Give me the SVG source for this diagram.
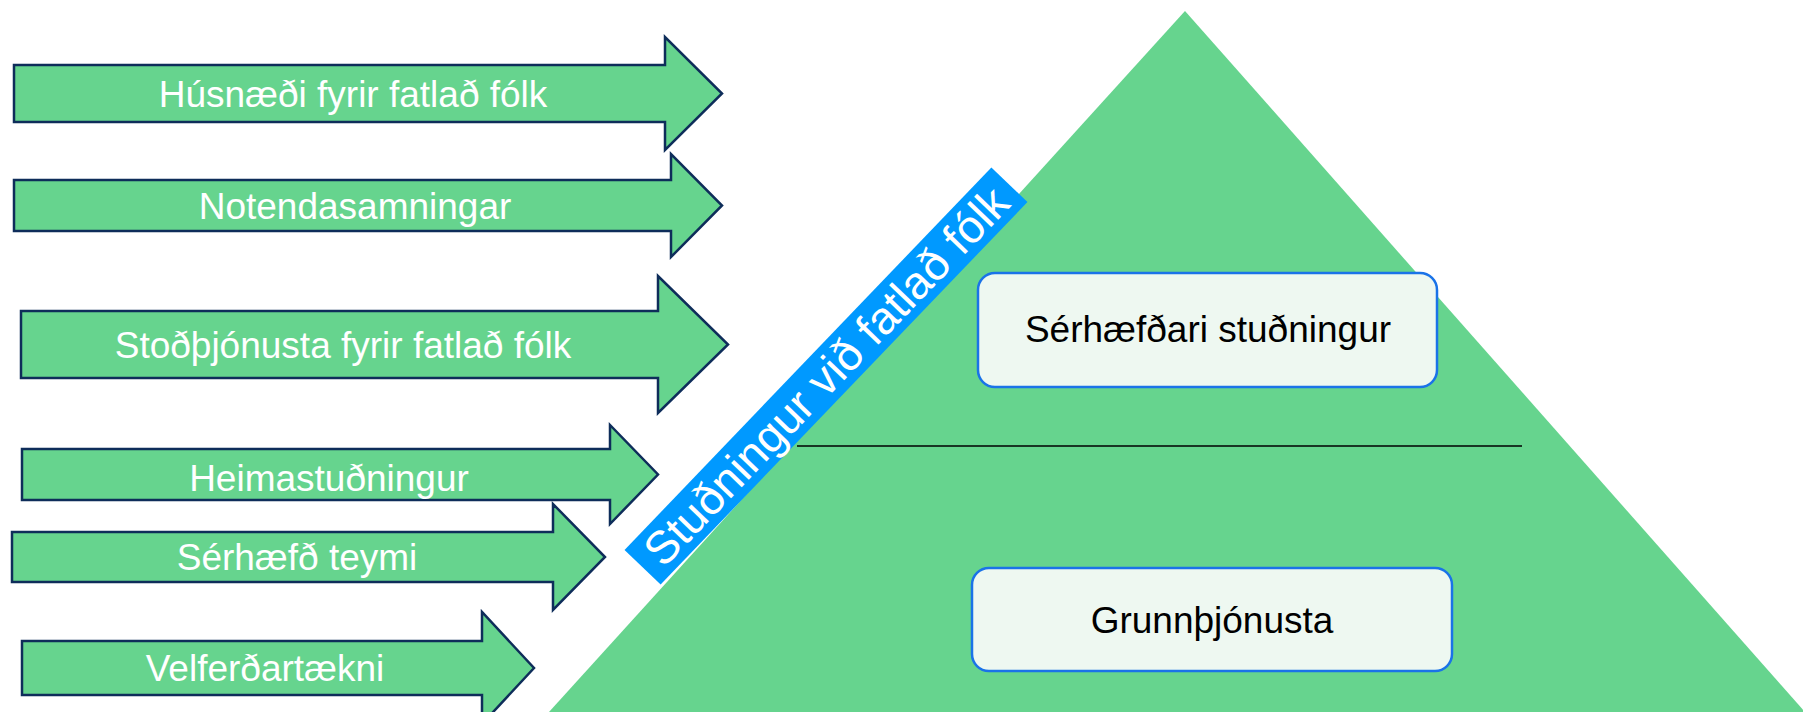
<svg xmlns="http://www.w3.org/2000/svg" width="1803" height="712" viewBox="0 0 1803 712">
<style>
.arrow{fill:#66D48E;stroke:#0E2D5A;stroke-width:2.5;stroke-linejoin:miter}
.atext{font-family:"Liberation Sans",Arial,sans-serif;font-size:37px;fill:#FFFFFF;text-anchor:middle}
.box{fill:#EEF8F1;stroke:#1A73E8;stroke-width:2.5}
.btext{font-family:"Liberation Sans",Arial,sans-serif;font-size:37px;fill:#000000;text-anchor:middle}
.band{fill:#0099FF}
.bandtext{font-family:"Liberation Sans",Arial,sans-serif;font-size:46px;fill:#FFFFFF;text-anchor:middle}
</style>
<rect width="1803" height="712" fill="#FFFFFF"/>
<g id="pyramid">
<polygon points="1185,11 549,712 1805,712" fill="#66D48E"/>
</g>
<g id="connectors">
<line x1="797" y1="446" x2="1522" y2="446" stroke="#000000" stroke-width="1.5"/>
</g>
<g id="box-serhaefdari">
<rect class="box" x="978" y="273" width="459" height="114" rx="17"/>
<text class="btext" x="1208" y="342">Sérhæfðari stuðningur</text>
</g>
<g id="box-grunnthjonusta">
<rect class="box" x="972" y="568" width="480" height="103" rx="17"/>
<text class="btext" x="1212" y="633">Grunnþjónusta</text>
</g>
<g id="band" transform="translate(826 376) rotate(-46.2)">
<rect class="band" x="-265" y="-25" width="530" height="50"/>
<text class="bandtext" x="0" y="16">Stuðningur við fatlað fólk</text>
</g>
<g id="arrow-husnaedi">
<path class="arrow" d="M14,65 H665 V37 L722,93.5 L665,150 V122 H14 Z"/>
<text class="atext" x="353" y="107">Húsnæði fyrir fatlað fólk</text>
</g>
<g id="arrow-notendasamningar">
<path class="arrow" d="M14,180 H671 V154 L722,205.5 L671,257 V231 H14 Z"/>
<text class="atext" x="355" y="219">Notendasamningar</text>
</g>
<g id="arrow-stodthjonusta">
<path class="arrow" d="M21,311 H658 V276 L728,344.5 L658,413 V378 H21 Z"/>
<text class="atext" x="343" y="358">Stoðþjónusta fyrir fatlað fólk</text>
</g>
<g id="arrow-heimastudningur">
<path class="arrow" d="M22,449 H610 V425 L658,474.5 L610,524 V500 H22 Z"/>
<text class="atext" x="329" y="491">Heimastuðningur</text>
</g>
<g id="arrow-serhaefd-teymi">
<path class="arrow" d="M12,532 H553 V504 L605,557 L553,610 V582 H12 Z"/>
<text class="atext" x="297" y="570">Sérhæfð teymi</text>
</g>
<g id="arrow-velferdartaekni">
<path class="arrow" d="M22,641 H482 V612 L534,668 L482,724 V695 H22 Z"/>
<text class="atext" x="265" y="681">Velferðartækni</text>
</g>
</svg>
